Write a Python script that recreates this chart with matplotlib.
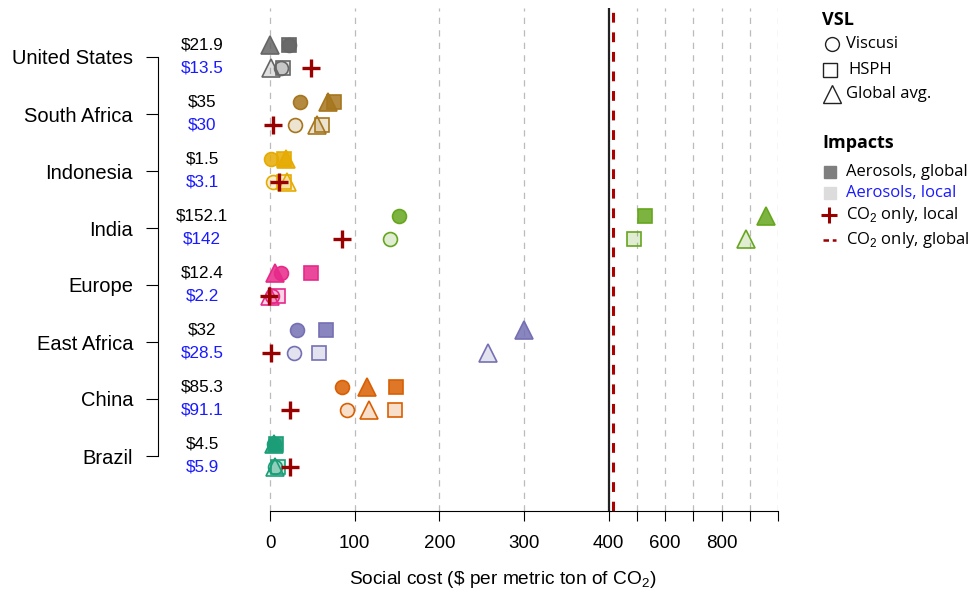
import matplotlib.pyplot as plt
import numpy as np
from matplotlib.colors import to_rgba

plt.rcParams['font.family'] = ['Liberation Sans', 'DejaVu Sans']
plt.rcParams['mathtext.fontset'] = 'custom'
plt.rcParams['mathtext.rm'] = 'Liberation Sans'

countries = ['United States', 'South Africa', 'Indonesia', 'India',
             'Europe', 'East Africa', 'China', 'Brazil']
colors = ['#666666', '#a6761d', '#e6ab02', '#66a61e',
          '#e7298a', '#7570b3', '#d95f02', '#1b9e77']

# social cost per ton, global (aerosols, global) and local rows
viscusi_global = [21.9, 35, 1.5, 152.1, 12.4, 32, 85.3, 4.5]
viscusi_local = [13.5, 30, 3.1, 142, 2.2, 28.5, 91.1, 5.9]
hsph_global = [22, 76, 17, 528, 48, 66, 149, 7]
hsph_local = [15, 61, 17, 489, 10, 58, 148, 9]
avg_global = [0, 68, 19, 957, 6, 300, 114, 5]
avg_local = [1, 55, 20, 886, 0, 257, 117, 6]
co2_local = [48, 3, 11, 85, -1, 1, 24, 24]
co2_global = 417

xticks = [0, 100, 200, 300, 400, 500, 600, 700, 800, 900, 1000]
xticklabels = ['0', '100', '200', '300', '400', '', '600', '', '800', '', '']


def fwd(x):
    x = np.asarray(x, float)
    return np.where(x <= 400, x, 400 + (x - 400) / 3)


def inv(t):
    t = np.asarray(t, float)
    return np.where(t <= 400, t, 400 + (t - 400) * 3)


W, H = 971, 593
fig = plt.figure(figsize=(W / 100, H / 100), dpi=100)
ax = fig.add_axes([158 / W, (H - 511) / H, 620 / W, 503 / H])
ax.set_xscale('function', functions=(fwd, inv))
ax.set_xlim(-132.3, 1000)
ax.set_ylim(1 - 55 / 57, 8 + 49 / 57)

ypos = [8 - i for i in range(len(countries))]
dg, dl = 0.21, -0.19

# grid and reference lines
for xv in xticks:
    if xv == 400:
        continue
    ax.axvline(xv, color='#bbbbbb', lw=0.9, ls=(0, (5, 5)), zorder=0)
ax.axvline(400, color='#222222', lw=1.6, zorder=1)
ax.axvline(co2_global, color='#aa0000', lw=2.2, ls=(0, (3.2, 3.2)), zorder=1)

for i, y in enumerate(ypos):
    c = colors[i]
    fill_g = to_rgba(c, 0.85)
    fill_l = to_rgba(c, 0.2)
    kw = dict(ls='none', mec=c, mew=1.2, clip_on=False, zorder=3)
    ax.plot(hsph_global[i], y + dg, marker='s', ms=9.5, mfc=fill_g, **kw)
    ax.plot(viscusi_global[i], y + dg, marker='o', ms=10, mfc=fill_g, **kw)
    ax.plot(avg_global[i], y + dg, marker='^', ms=13, mfc=fill_g, **kw)
    ax.plot(hsph_local[i], y + dl, marker='s', ms=9.5, mfc=fill_l, **kw)
    ax.plot(viscusi_local[i], y + dl, marker='o', ms=10, mfc=fill_l, **kw)
    ax.plot(avg_local[i], y + dl, marker='^', ms=13, mfc=fill_l, **kw)
    ax.plot(co2_local[i], y + dl, marker='+', ms=13, mew=2.4, color='#990000',
            ls='none', clip_on=False, zorder=4)
    ax.text(-80, y + dg, '\\$' + f'{viscusi_global[i]:g}', ha='center',
            va='center', fontsize=12.3, color='black')
    ax.text(-80, y + dl, '\\$' + f'{viscusi_local[i]:g}', ha='center',
            va='center', fontsize=12.3, color='#1a1aff')

# axes styling
for s in ['top', 'right']:
    ax.spines[s].set_visible(False)
ax.spines['left'].set_bounds(1, 8)
ax.spines['bottom'].set_bounds(0, 1000)
ax.set_yticks(ypos)
ax.set_yticklabels(countries, fontsize=14.5)
ax.set_xticks(xticks)
ax.set_xticklabels(xticklabels, fontsize=13.5)
ax.tick_params(axis='y', length=9, pad=9)
ax.tick_params(axis='x', length=7, pad=10)
fig.text(503 / W, 1 - 580 / H, 'Social cost (\\$ per metric ton of CO$_2$)',
         fontsize=13.8, ha='center', va='center')

# legend, drawn in pixel coordinates
lg = fig.add_axes([0, 0, 1, 1])
lg.set_xlim(0, W)
lg.set_ylim(H, 0)
lg.axis('off')
lf = ['Open Sans', 'DejaVu Sans']
lg.text(822, 20, 'VSL', fontsize=13, fontweight='bold', va='center', family=lf)
lg.plot(832, 44, marker='o', ms=10, mfc='white', mec='#222222', mew=1.0)
lg.text(846, 44, 'Viscusi', fontsize=12, va='center', family=lf)
lg.plot(830, 70, marker='s', ms=9.5, mfc='white', mec='#222222', mew=1.0)
lg.text(848, 70, 'HSPH', fontsize=12, va='center', family=lf)
lg.plot(832, 94, marker='^', ms=13, mfc='white', mec='#222222', mew=1.0)
lg.text(846, 94, 'Global avg.', fontsize=12, va='center', family=lf)
lg.text(822, 143, 'Impacts', fontsize=13, fontweight='bold', va='center', family=lf)
lg.plot(830, 172, marker='s', ms=8, mfc='#7f7f7f', mec='#7f7f7f')
lg.text(846, 172, 'Aerosols, global', fontsize=12, va='center', family=lf)
lg.plot(830, 193, marker='s', ms=8, mfc='#dcdcdc', mec='#dcdcdc')
lg.text(846, 193, 'Aerosols, local', fontsize=12, va='center', color='#1a1aff', family=lf)
lg.plot(829, 215, marker='+', ms=11, mew=2.2, color='#990000')
lg.text(846, 215, 'CO$_2$ only, local', fontsize=12, va='center', family=lf)
lg.plot([823, 836], [240, 240], color='#990000', lw=1.8, ls=(0, (2.2, 1.5)))
lg.text(846, 240, 'CO$_2$ only, global', fontsize=12, va='center', family=lf)

fig.savefig('out.png', dpi=100)
